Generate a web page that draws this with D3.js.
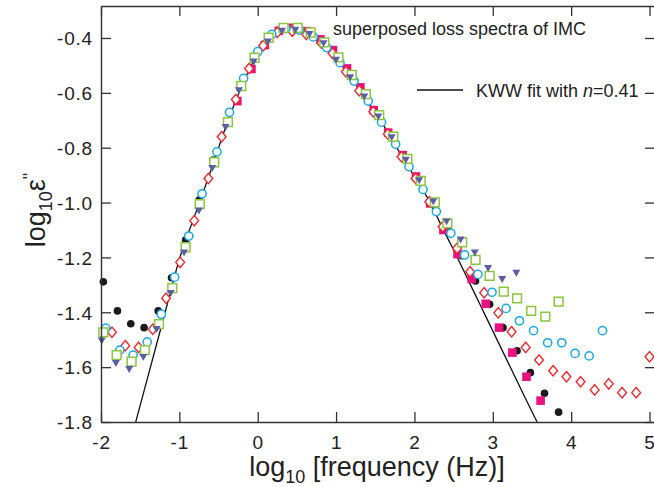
<!DOCTYPE html>
<html><head><meta charset="utf-8">
<script src="https://cdn.jsdelivr.net/npm/d3@7"></script>
<style>body{margin:0;background:#fff}svg{display:block}</style>
</head><body>
<svg id="chart" width="654" height="487"></svg>
<script>
// ---- data (log10 frequency, log10 eps'') ----
const xTicks = [-2, -1, 0, 1, 2, 3, 4, 5];
const yTicks = [-1.8, -1.6, -1.4, -1.2, -1.0, -0.8, -0.6, -0.4];

const blackCircles = [[-1.97,-1.289],[-1.79,-1.395],[-1.62,-1.442],[-1.45,-1.456],[-1.27,-1.395],[-1.10,-1.274],[-0.92,-1.137],
  [-0.745,-0.99],[-0.57,-0.845],[-0.39,-0.705],[-0.22,-0.575],[-0.04,-0.47],[0.135,-0.40],[0.31,-0.368],[0.49,-0.366],[0.665,-0.385],
  [0.84,-0.42],[1.02,-0.475],[1.195,-0.54],[1.37,-0.61],[1.545,-0.686],[1.72,-0.765],[1.90,-0.845],[2.075,-0.925],[2.25,-1.01],[2.425,-1.10],
  [2.60,-1.194],[2.78,-1.286],[2.96,-1.371],[3.13,-1.456],[3.31,-1.540],[3.48,-1.620],[3.66,-1.695],[3.84,-1.764]];

const magentaSquares = [[-0.26,-0.630],[-0.08,-0.513],[0.09,-0.426],[0.27,-0.374],[0.45,-0.363],[0.62,-0.375],[0.80,-0.405],[0.96,-0.444],
  [1.14,-0.511],[1.31,-0.580],[1.48,-0.663],[1.665,-0.745],[1.85,-0.827],[2.02,-0.905],[2.20,-1.003],[2.37,-1.100],[2.55,-1.188],
  [2.73,-1.279],[2.91,-1.369],[3.08,-1.456],[3.25,-1.547],[3.43,-1.635],[3.61,-1.722]];

const redDiamonds = [[-1.86,-1.473],[-1.69,-1.522],[-1.52,-1.528],[-1.34,-1.462],[-1.17,-1.349],[-0.99,-1.218],[-0.81,-1.066],[-0.63,-0.912],
  [-0.46,-0.760],[-0.28,-0.624],[-0.11,-0.511],[0.07,-0.428],[0.25,-0.380],[0.44,-0.375],[0.62,-0.387],[0.81,-0.418],[0.955,-0.456],
  [1.125,-0.523],[1.295,-0.592],[1.475,-0.669],[1.66,-0.750],[1.835,-0.833],[2.015,-0.912],[2.19,-0.997],[2.36,-1.088],[2.545,-1.167],
  [2.71,-1.252],[2.89,-1.329],[3.07,-1.402],[3.24,-1.471],[3.42,-1.528],[3.59,-1.574],[3.77,-1.613],[3.94,-1.635],[4.12,-1.653],
  [4.30,-1.683],[4.48,-1.661],[4.65,-1.693],[4.83,-1.693],[5.00,-1.562]];

const cyanCircles = [[-1.94,-1.458],[-1.76,-1.538],[-1.59,-1.556],[-1.41,-1.508],[-1.23,-1.407],[-1.06,-1.272],[-0.88,-1.122],[-0.71,-0.968],
  [-0.52,-0.815],[-0.36,-0.671],[-0.18,-0.547],[0.00,-0.450],[0.18,-0.387],[0.36,-0.366],[0.53,-0.371],[0.71,-0.396],[0.88,-0.435],
  [1.05,-0.490],[1.23,-0.557],[1.41,-0.630],[1.58,-0.707],[1.76,-0.787],[1.93,-0.869],[2.11,-0.952],[2.28,-1.033],[2.465,-1.112],
  [2.64,-1.191],[2.81,-1.262],[2.99,-1.327],[3.17,-1.386],[3.34,-1.431],[3.52,-1.467],[3.70,-1.511],[3.88,-1.511],[4.05,-1.550],
  [4.23,-1.559],[4.40,-1.467]];

const greenSquares = [[-1.97,-1.473],[-1.80,-1.556],[-1.61,-1.580],[-1.44,-1.538],[-1.26,-1.443],[-1.09,-1.312],[-0.92,-1.163],[-0.74,-1.006],
  [-0.555,-0.853],[-0.38,-0.707],[-0.21,-0.575],[-0.04,-0.472],[0.14,-0.399],[0.33,-0.363],[0.51,-0.363],[0.675,-0.380],[0.85,-0.416],
  [1.03,-0.471],[1.20,-0.535],[1.38,-0.605],[1.55,-0.681],[1.73,-0.760],[1.91,-0.841],[2.08,-0.921],[2.26,-0.999],[2.42,-1.076],
  [2.61,-1.145],[2.78,-1.209],[2.96,-1.267],[3.14,-1.325],[3.31,-1.349],[3.49,-1.395],[3.67,-1.416],[3.84,-1.361]];

const blueTriangles = [[-1.99,-1.504],[-1.81,-1.586],[-1.64,-1.608],[-1.46,-1.564],[-1.29,-1.462],[-1.11,-1.331],[-0.94,-1.183],[-0.75,-1.030],
  [-0.58,-0.875],[-0.41,-0.726],[-0.24,-0.592],[-0.05,-0.487],[0.13,-0.414],[0.31,-0.375],[0.48,-0.371],[0.66,-0.387],[0.84,-0.420],
  [1.00,-0.480],[1.18,-0.544],[1.36,-0.614],[1.54,-0.687],[1.71,-0.763],[1.89,-0.845],[2.06,-0.920],[2.24,-0.997],[2.41,-1.070],
  [2.59,-1.136],[2.77,-1.183],[2.94,-1.240],[3.12,-1.280],[3.30,-1.257]];

const kwwFit = [[-1.557,-1.80],[-1.40,-1.633],[-1.20,-1.420],[-0.99,-1.197],[-0.80,-1.045],[-0.60,-0.885],[-0.40,-0.718],[-0.20,-0.573],
  [0.00,-0.458],[0.20,-0.393],[0.40,-0.368],[0.60,-0.382],[0.80,-0.418],[1.00,-0.475],[1.20,-0.548],[1.40,-0.630],[1.60,-0.716],
  [1.80,-0.812],[2.00,-0.905],[2.20,-1.000],[2.35,-1.088],[2.50,-1.173],[2.80,-1.350],[3.10,-1.527],[3.40,-1.704],[3.565,-1.80]];

// ---- chart ----
const svg = d3.select('#chart');
const FONT = 'Liberation Sans, Arial, Helvetica, sans-serif';
const x = d3.scaleLinear().domain([-2, 5.07]).range([101, 655]);
const y = d3.scaleLinear().domain([-1.8, -0.2834]).range([422, 6]);
const axisColor = '#333';

// fit line
svg.append('path')
  .datum(kwwFit)
  .attr('fill', 'none').attr('stroke', '#111').attr('stroke-width', 1.3)
  .attr('d', d3.line().x(d => x(d[0])).y(d => y(d[1])).curve(d3.curveMonotoneX));

function drawSeries(data, pathStr, fill, stroke, sw) {
  svg.append('g').selectAll('path').data(data).join('path')
    .attr('transform', d => `translate(${x(d[0])},${y(d[1])})`)
    .attr('d', pathStr)
    .attr('fill', fill)
    .attr('stroke', stroke)
    .attr('stroke-width', sw);
}
const circleSmall = d3.symbol().type(d3.symbolCircle).size(Math.PI * 3.8 * 3.8)();
const circleOpen = d3.symbol().type(d3.symbolCircle).size(Math.PI * 4.1 * 4.1)();
const squareFilled = 'M-4.3,-4.3H4.3V4.3H-4.3Z';
const squareOpen = 'M-4.4,-4.4H4.4V4.4H-4.4Z';
const diamond = 'M0,-5.2L4.4,0L0,5.2L-4.4,0Z';
const triDown = 'M-4,-3.3L4,-3.3L0,3.6Z';

drawSeries(blackCircles, circleSmall, '#1a1a1a', 'none', 0);
drawSeries(magentaSquares, squareFilled, '#e8117f', 'none', 0);
drawSeries(redDiamonds, diamond, '#fff', '#ee2a2f', 1.4);
drawSeries(cyanCircles, circleOpen, '#fff', '#18a9e6', 1.5);
drawSeries(greenSquares, squareOpen, '#fff', '#8cc53f', 1.5);
drawSeries(blueTriangles, triDown, '#5c5ea6', 'none', 0);

// axes (inward ticks)
function styleAxis(g) {
  g.selectAll('.domain').attr('stroke', axisColor).attr('stroke-width', 1.4);
  g.selectAll('.tick line').attr('stroke', axisColor).attr('stroke-width', 1.3);
  g.selectAll('text').attr('font-family', FONT).attr('font-size', 19).attr('fill', '#222')
    .attr('letter-spacing', '0.8px');
}
const gB = svg.append('g').attr('transform', 'translate(0,422)')
  .call(d3.axisBottom(x).tickValues(xTicks).tickSize(-10).tickSizeOuter(0).tickFormat(d => String(d)));
styleAxis(gB);
gB.selectAll('.tick text').attr('y', 27).attr('dy', 0);

const gL = svg.append('g').attr('transform', 'translate(101,0)')
  .call(d3.axisLeft(y).tickValues(yTicks).tickSize(-10).tickSizeOuter(0).tickFormat(d => d.toFixed(1)));
styleAxis(gL);
gL.selectAll('.tick text').attr('x', -8).attr('dy', '0.36em');

const gT = svg.append('g').attr('transform', 'translate(0,6)')
  .call(d3.axisTop(x).tickValues(xTicks).tickSize(-10).tickSizeOuter(0).tickFormat(''));
styleAxis(gT);

const gR = svg.append('g').attr('transform', 'translate(655,0)')
  .call(d3.axisRight(y).tickValues(yTicks).tickSize(-10).tickSizeOuter(0).tickFormat(''));
styleAxis(gR);

// axis titles
const xl = svg.append('text').attr('x', 377).attr('y', 476).attr('text-anchor', 'middle')
  .attr('font-family', FONT).attr('font-size', 27).attr('fill', '#222');
xl.append('tspan').text('log');
xl.append('tspan').attr('font-size', 18).attr('dy', 7).text('10');
xl.append('tspan').attr('dy', -7).text(' [frequency (Hz)]');

const yl = svg.append('text').attr('transform', 'translate(45,210) rotate(-90)').attr('text-anchor', 'middle')
  .attr('font-family', FONT).attr('font-size', 27).attr('fill', '#222');
yl.append('tspan').text('log');
yl.append('tspan').attr('font-size', 18).attr('dy', 7).text('10');
yl.append('tspan').attr('dy', -7).text('ε');
yl.append('tspan').attr('font-size', 18).attr('dy', -9).text('"');

// legend
svg.append('text').attr('x', 333).attr('y', 35).attr('font-family', FONT).attr('font-size', 18).attr('fill', '#222')
  .text('superposed loss spectra of IMC');
svg.append('line').attr('x1', 417).attr('x2', 463).attr('y1', 90).attr('y2', 90).attr('stroke', '#111').attr('stroke-width', 1.3);
const lt = svg.append('text').attr('x', 476).attr('y', 97).attr('font-family', FONT).attr('font-size', 18).attr('fill', '#222');
lt.append('tspan').text('KWW fit with ');
lt.append('tspan').attr('font-style', 'italic').text('n');
lt.append('tspan').text('=0.41');
</script>
</body></html>
